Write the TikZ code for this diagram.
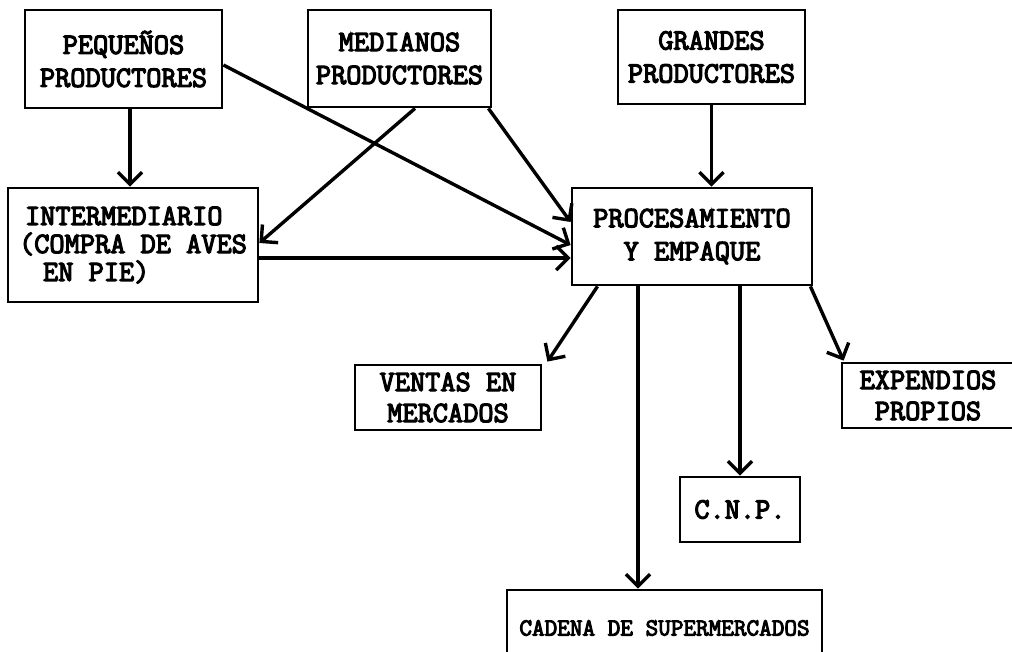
\documentclass[tikz,border=0pt]{standalone}
\usepackage{fontspec}
\newfontfamily\tw{Latin Modern Mono}[FakeBold=4]
\usetikzlibrary{arrows.meta}
\begin{document}
\begin{tikzpicture}[x=1pt,y=-1pt,
  box/.style={draw, line width=2.8pt, inner sep=0pt, align=center,
    font=\tw\bfseries\fontsize{29.5}{33}\selectfont},
  arr/.style={line width=3.4pt, -{Straight Barb[length=12pt,width=24pt]}}]
\useasboundingbox (0,0) rectangle (1012,651);
\fill[white] (0,0) rectangle (1012,651);
\clip (0,0) rectangle (1012,651);
% boxes
\node[box, minimum width=197pt, minimum height=98pt] (peq) at (123.5,59) {PEQUEÑOS\\PRODUCTORES};
\node[box, minimum width=183pt, minimum height=97pt] (med) at (399.5,58.5) {MEDIANOS\\PRODUCTORES};
\node[box, minimum width=187pt, minimum height=94pt] (gra) at (711.5,57) {GRANDES\\PRODUCTORES};
\node[box, minimum width=250pt, minimum height=114pt, align=left,
  font=\tw\bfseries\fontsize{29.5}{28}\selectfont] (int) at (133,245)
  {\hspace*{6pt}INTERMEDIARIO\\(COMPRA DE AVES\\\hspace*{24pt}EN PIE)};
\node[box, minimum width=240pt, minimum height=97pt] (pro) at (692,236.5) {PROCESAMIENTO\\Y EMPAQUE};
\node[box, minimum width=186pt, minimum height=65pt,
  font=\tw\bfseries\fontsize{29.5}{31}\selectfont] (ven) at (448,397.5) {VENTAS EN\\MERCADOS};
\node[box, minimum width=172pt, minimum height=65pt,
  font=\tw\bfseries\fontsize{29.5}{31}\selectfont] (exp) at (928,395.5) {EXPENDIOS\\PROPIOS};
\node[box, minimum width=120pt, minimum height=65pt] (cnp) at (740,509.5) {C.N.P.};
\node[box, minimum width=315pt, minimum height=76pt,
  font=\tw\bfseries\fontsize{24.5}{28}\selectfont] (cad) at (664.5,628) {CADENA DE SUPERMERCADOS};
% helper coordinates
\coordinate (i1) at ([yshift=-13pt]int.east);
\coordinate (p3) at ([xshift=-54pt]pro.south);
\coordinate (p4) at ([xshift=48pt]pro.south);
% connectors
\draw[arr] ([xshift=6.5pt]peq.south) -- ([xshift=-3pt]int.north);
\draw[arr] ([yshift=-6pt]peq.east) -- ([yshift=-8.5pt]pro.west);
\draw[arr] ([xshift=15.5pt]med.south) -- ([yshift=2pt]int.east);
\draw[arr] ([xshift=-4pt]med.south east) -- ([yshift=14.5pt]pro.west);
\draw[arr] (gra.south) -- ([xshift=19.5pt]pro.north);
\draw[arr] (i1) -- (i1 -| pro.west);
\draw[arr] ([xshift=-94.5pt]pro.south) -- ([xshift=5pt,yshift=2pt]ven.north east);
\draw[arr] (p3) -- (p3 |- cad.north);
\draw[arr] (p4) -- (p4 |- cnp.north);
\draw[arr] ([xshift=-3pt]pro.south east) -- ([xshift=3pt,yshift=1pt]exp.north west);
\end{tikzpicture}
\end{document}
